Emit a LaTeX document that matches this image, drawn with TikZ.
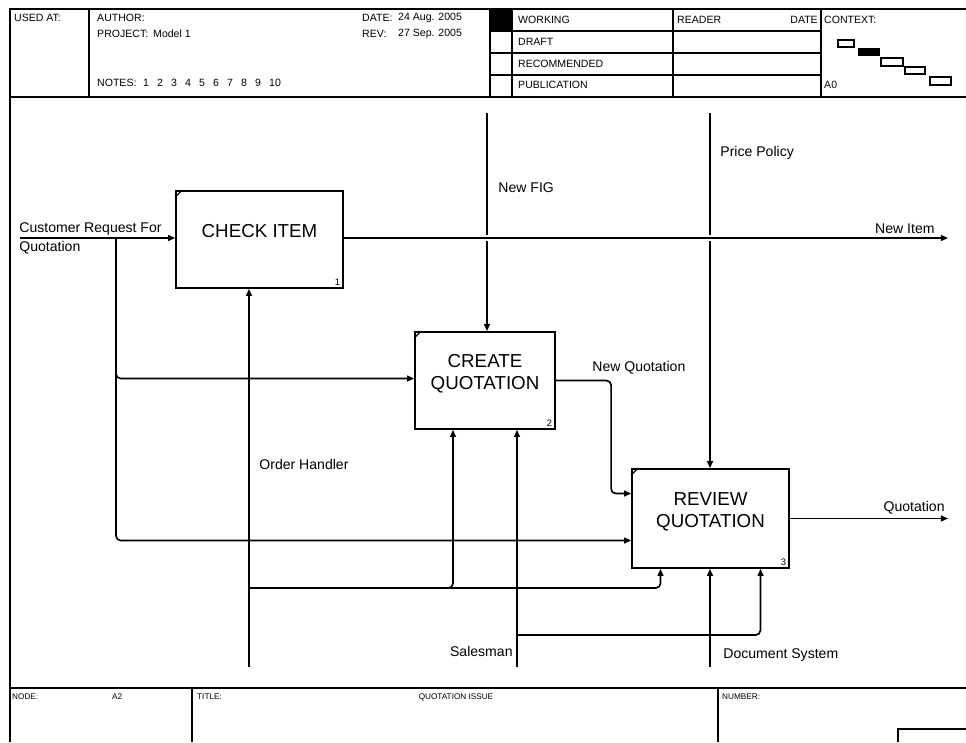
\documentclass[tikz,border=0pt]{standalone}
\usepackage{fontspec}
\setmainfont{Liberation Sans}
\usetikzlibrary{arrows.meta,calc}

\tikzset{
  func/.style={draw, line width=1.5pt, inner sep=0pt, align=center, font=\fontsize{16}{19}\selectfont},
  flow/.style={line width=1.4pt, -{Triangle[length=6pt,width=5pt]}},
  hop/.style={preaction={draw=white, line width=4.5pt, -}},
  lbl/.style={font=\fontsize{12}{14}\selectfont, inner sep=1pt},
  hdr/.style={font=\fontsize{9}{10}\selectfont, inner sep=0pt, anchor=west},
  ftr/.style={font=\fontsize{7}{8}\selectfont, inner sep=0pt, anchor=west},
  num/.style={font=\fontsize{8}{9}\selectfont, inner sep=3pt, anchor=south east},
}

\begin{document}
\begin{tikzpicture}[x=0.03cm, y=-0.03cm]
\useasboundingbox (0,0) rectangle (966,742);

% form frame
\draw[line width=1.4pt] (10,742) -- (10,9) -- (966,9);
\draw[line width=1.4pt] (10,97) -- (966,97);
\draw[line width=1.4pt] (10,688) -- (966,688);
\foreach \x in {89,490,512,673,821}
    \draw[line width=1.1pt] (\x,9) -- (\x,97);
\foreach \y in {31,53,75}
    \draw[line width=1.1pt] (490,\y) -- (821,\y);
\fill (490,9) rectangle (512,31);
\foreach \x in {192,718}
    \draw[line width=1.1pt] (\x,688) -- (\x,742);
\draw[line width=1.1pt] (966,729) -- (898,729) -- (898,742);

% header texts
\node[hdr] (usedat) at (14,18) {USED AT:};
\node[hdr] (author) at (97,18) {AUTHOR:};
\node[hdr] (project) at (97,34) {PROJECT:};
\node[hdr] (model) at (153,34) {Model 1};
\node[hdr] (notes) at (97,83) {NOTES:};
\foreach \n in {1,...,10}
    \node[hdr] (note\n) at ({129+14*\n},83) {\n};
\node[hdr] (date) at (362,18) {DATE:};
\node[hdr] (dateval) at (398,18) {24 Aug. 2005};
\node[hdr] (rev) at (362,34) {REV:};
\node[hdr] (revval) at (398,34) {27 Sep. 2005};
\node[hdr] (working) at (518,20) {WORKING};
\node[hdr] (draft) at (518,42) {DRAFT};
\node[hdr] (recomm) at (518,64) {RECOMMENDED};
\node[hdr] (public) at (518,85) {PUBLICATION};
\node[hdr] (reader) at (677,20) {READER};
\node[hdr, anchor=east] (rdate) at (818,20) {DATE};
\node[hdr] (context) at (824,20) {CONTEXT:};
\node[hdr] (nodeA0) at (824,85) {A0};

% context boxes
\draw[line width=1.1pt] (838,40) rectangle (854,47);
\filldraw[line width=1.1pt] (859,49) rectangle (879,55);
\draw[line width=1.1pt] (881,58) rectangle (903,66);
\draw[line width=1.1pt] (905,67) rectangle (925,74);
\draw[line width=1.1pt] (930,77) rectangle (951,85);

% footer texts
\node[ftr] (nodelbl) at (12,697) {NODE:};
\node[ftr] (nodeval) at (112,697) {A2};
\node[ftr] (title) at (197,697) {TITLE:};
\node[ftr, anchor=center] (titleval) at (456,697) {QUOTATION ISSUE};
\node[ftr] (number) at (722,697) {NUMBER:};

% activity boxes
\node[func, minimum width=5.01cm, minimum height=2.91cm] (chk) at (259.5,239.5) {CHECK ITEM\\[-4pt]{}};
\node[func, minimum width=4.2cm, minimum height=2.91cm] (crt) at (485,380.5) {CREATE\\QUOTATION\\[-4pt]{}};
\node[func, minimum width=4.71cm, minimum height=2.97cm] (rev) at (710.5,518.5) {REVIEW\\QUOTATION\\[-4pt]{}};
\foreach \b/\k in {chk/1, crt/2, rev/3}{
    \draw[line width=1.1pt] (\b.north west) ++(0,7) -- ++(7,-7);
    \node[num] (\b num) at (\b.south east) {\k};
}

% inputs
\coordinate (crq) at (20,238);
\coordinate (crqb) at (116,238);
\draw[flow] (crq) -- (crq -| chk.west);
\draw[flow, rounded corners=4] (crqb) |- ($(crt.west)+(0,-2)$);
\draw[flow, rounded corners=4] (crqb) |- ($(rev.west)+(0,22)$);
\draw[flow, rounded corners=4] (crt.east) -| ($(rev.west)+(-20,-25)$) -- ($(rev.west)+(0,-25)$);

% controls
\coordinate (nfig) at (487,113);
\coordinate (ppol) at (710,113);
\draw[flow] (nfig) -- (nfig |- crt.north);
\draw[flow] (ppol) -- (ppol |- rev.north);

% outputs
\coordinate (nitem) at (948,238);
\coordinate (quot) at (948,518.5);
\draw[flow, hop] (chk.east |- nitem) -- (nitem);
\draw[flow] (rev.east) -- (quot);

% mechanisms
\coordinate (ohan) at (249,667);
\coordinate (ohanb) at (249,588);
\coordinate (sman) at (517,667);
\coordinate (smanb) at (517,635);
\coordinate (dsys) at (710,667);
\draw[flow] (ohan) -- (ohan |- chk.south);
\draw[flow, rounded corners=4] (ohanb) -| ($(crt.south)+(-32,0)$);
\draw[flow, rounded corners=4] (ohanb) -| ($(rev.south)+(-50,0)$);
\draw[flow] (sman) -- (sman |- crt.south);
\draw[flow, rounded corners=4] (smanb) -| ($(rev.south)+(50,0)$);
\draw[flow] (dsys) -- (dsys |- rev.south);

% arrow labels
\node[lbl, anchor=south west] (crqlbl) at (18,236.5) {Customer Request For};
\node[lbl, anchor=north west] (crqlbl2) at (18,240) {Quotation};
\node[lbl, anchor=south east] (nitemlbl) at (936,235.5) {New Item};
\node[lbl, anchor=west] (nfiglbl) at (497,188) {New FIG};
\node[lbl, anchor=west] (ppollbl) at (719,153) {Price Policy};
\node[lbl, anchor=west] (nquotlbl) at (591,368) {New Quotation};
\node[lbl, anchor=south east] (quotlbl) at (946,516) {Quotation};
\node[lbl, anchor=west] (ohanlbl) at (258,464) {Order Handler};
\node[lbl, anchor=east] (smanlbl) at (514,651) {Salesman};
\node[lbl, anchor=west] (dsyslbl) at (722,655) {Document System};
\end{tikzpicture}
\end{document}
